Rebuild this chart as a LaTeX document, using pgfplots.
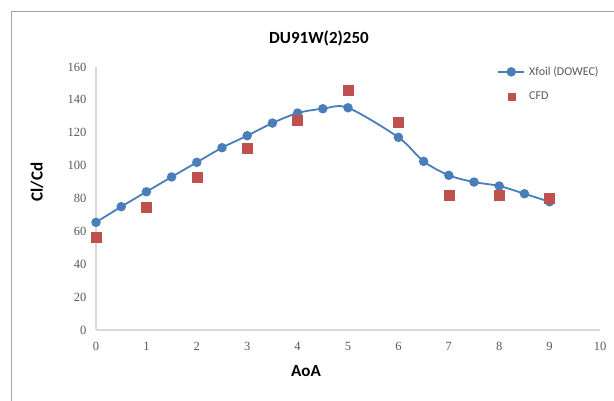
\documentclass[border=0pt]{standalone}
\usepackage{pgfplots}
\pgfplotsset{compat=1.18}
\usepackage{fontspec}
\setmainfont{Carlito}
\newfontfamily\tickfont{Liberation Serif}
\definecolor{xblue}{HTML}{4A7EBB}
\definecolor{cfdred}{HTML}{C0504D}
\definecolor{tickgray}{HTML}{595959}
\definecolor{axgray}{HTML}{D9D9D9}
\definecolor{framegray}{HTML}{A6A6A6}
\pgfplotsset{
  xfoil legend/.style={legend image code/.code={\draw[##1,mark repeat=2,mark phase=2] plot coordinates {(0pt,0pt)(13pt,0pt)(26pt,0pt)};}},
  cfd legend/.style={legend image code/.code={\path[draw=none,fill=none] (0pt,0pt) rectangle (26pt,0.1pt); \draw[##1, mark size=3.5pt] plot coordinates {(13pt,0pt)};}},
}
\begin{document}
\begin{tikzpicture}
\path[use as bounding box] (0pt,0pt) rectangle (614pt,401pt);
\draw[framegray, line width=1pt] (11pt,-3pt) -- (11pt,389pt) -- (620pt,389pt);
\node[font=\fontsize{17}{20}\selectfont\bfseries] at (319pt,363pt) {DU91W(2)250};
\node[font=\fontsize{17}{20}\selectfont\bfseries, rotate=90] at (37pt,219pt) {Cl/Cd};
\node[font=\fontsize{17}{20}\selectfont\bfseries] at (306pt,30pt) {AoA};
\begin{axis}[
  at={(96pt,71pt)}, anchor=south west,
  scale only axis, width=504pt, height=263pt,
  xmin=0, xmax=10, ymin=0, ymax=160,
  xtick={0,1,...,10}, ytick={0,20,...,160},
  axis x line*=bottom, axis y line*=left,
  axis line style={axgray, line width=1.2pt, -},
  tick style={draw=none},
  clip=false,
  /pgf/number format/assume math mode=true,
  ticklabel style={font=\tickfont\fontsize{12.5}{14}\selectfont, text=tickgray},
  xticklabel style={yshift=-9pt},
  yticklabel style={xshift=-6pt},
  legend style={at={(0.79,1.017)}, anchor=north west, draw=none, fill=none,
    font=\fontsize{12}{14}\selectfont, text=tickgray, row sep=11pt,
    legend cell align=left,
    /tikz/every odd column/.append style={column sep=2pt}},
]
\addplot[xblue, line width=1.8pt, smooth, tension=0.5, mark=*, mark size=3.8pt,
  mark options={fill=xblue, draw=xblue}, xfoil legend] coordinates {
(0,65.5) (0.5,75.0) (1,84.1) (1.5,93.1) (2,102.0) (2.5,110.9) (3,118.2)
(3.5,125.9) (4,132.0) (4.5,134.6) (5,135.2) (6,117.2) (6.5,102.6) (7,94.1)
(7.5,90.0) (8,87.6) (8.5,82.9) (9,78.0)};
\addlegendentry{Xfoil (DOWEC)}
\addplot[only marks, mark=square*, mark size=5pt, color=cfdred,
  mark options={fill=cfdred, draw=cfdred}, cfd legend] coordinates {
(0,56.4) (1,74.8) (2,92.7) (3,110.5) (4,127.9) (5,145.6) (6,126.5)
(7,82.3) (8,82.3) (9,79.9)};
\addlegendentry{CFD}
\end{axis}
\end{tikzpicture}
\end{document}
